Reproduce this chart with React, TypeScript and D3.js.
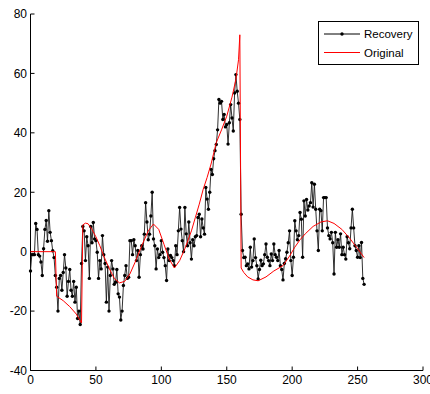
import React from 'react';
import * as d3 from 'd3';

// recovered samples, x = 0..255
const recovery = [
  -6.5, -1, -1, -1, 9.5, 7.5, -1, -1.5, -3.5, -8,
  1, 7.5, 10.5, 3.5, 13.8, 6.5, 3.7, 0.3, -2, -8,
  -12, -20, -9, -8, -13, -7, -1, -5.5, -15, -10,
  -6, -13, -15, -10, -17, -12, -22.5, -20, -24.5, -4,
  8.5, 7, -3, 5, 2, -9, 8.5, 3, 9.8, 4.3,
  3.7, -0.2, -9, -3, -5.8, 5.4, -1, -4, -17, -5.2,
  -20, -8, -3, -5.8, -11, -10.3, -6, -14.2, -15.3, -23,
  -20, -11.4, -8, -4.7, -9, -8.6, 3.7, 3.7, -1, 4,
  2, -3, 0.4, -8.6, -1, 2, 0.9, 5.9, 16.5, 10,
  4, 5.9, 12, 20, 4.3, 2, -5.8, 0.9, -2, -1,
  3.7, -0.2, -2, -4.7, -9.7, 0.9, -3, -1.3, -2, -3,
  -4.7, 2, -1, 7, 14.9, 7.6, 3.7, 0, 14.9, 6,
  2, 10, 3, -2.5, 4, 2, 5, 5.4, 11.5, 12.6,
  5, 11, 8, 5.9, 21.6, 17.7, 14.3, 20, 27.7, 26,
  31.3, 34, 36.1, 41, 51.2, 50, 50.6, 44.5, 46.2, 42,
  42.8, 36.2, 43.4, 49.5, 45, 40.6, 53.4, 59.6, 54, 50,
  44.5, 12.6, 0.4, -2, -1.9, -4.7, -4.1, -5.8, 1.5, -5.2,
  -3, 4.3, -2, -4.7, -9.2, -6, -2.9, -4.7, -4.1, -1,
  2.6, -1.9, -3, -4.7, -0.8, -3, 2.6, -1, -1.9, -3,
  0.4, -4.7, -6, -9.5, -4, -2.4, -0.2, 3, 7, -3,
  -8, -1.9, 10.4, 7, 4, 5.4, 13.2, 10.9, -1.9, 17.1,
  12, 17.6, 14, 15.4, 16.5, 23.2, 15, 22.7, 14.3, 7,
  0.4, 14.3, 13.8, 7, 18.2, 18.2, 18.2, 8, 5.4, 4.3,
  6.5, 3, -7.5, 6.5, 1.5, 4, 1.5, 6, -1, 1.5,
  -1, -2.5, 5, 3, 1, 8, 14.3, 8, 2, 0.4,
  -1.9, 2, -2, 3.1, -9, -11,
];

// original signal, read at these positions
const originalX = [
  0, 19, 20, 25, 30, 35, 39, 40, 42, 44, 47, 50, 53, 56, 60, 64, 68, 72, 76, 80, 85,
  90, 94, 98, 102, 106, 110, 114, 118, 123, 126, 129, 132, 135, 138, 142, 146, 150,
  154, 157, 159, 160, 161, 163, 166, 170, 174, 180, 186, 193, 198, 202, 206, 210,
  216, 222, 227, 232, 238, 244, 250, 255,
];
const originalY = [
  0, 0, -15, -16.5, -18.5, -21, -24, 9, 9.6, 9.4, 7.5, 5, 2, -1.5, -5.5, -9, -10.5, -10, -7.5, -3.5, 2,
  7, 9.3, 7.5, 2.5, -2.5, -5.5, -3, 1, 7, 11.5, 16, 21, 25, 29.5, 36.7, 41, 45.6,
  52, 58, 64.6, 73, -5.5, -7, -8.5, -9.5, -9.8, -8.5, -6.5, -4.7, -1.5, 1.5, 4, 6,
  8.5, 10, 10.4, 9.5, 7.5, 4.5, 1, -2,
];

const xTicks = [0, 50, 100, 150, 200, 250, 300];
const yTicks = [-40, -20, 0, 20, 40, 60, 80];
const legendItems = ['Recovery', 'Original'];

const FONT = '"Liberation Sans", Arial, Helvetica, sans-serif';

export default function App() {
  const x = d3.scaleLinear().domain([0, 300]).range([30.5, 423]);
  const y = d3.scaleLinear().domain([-40, 80]).range([370.5, 14]);

  const line = d3.line<[number, number]>()
    .x(d => x(d[0]))
    .y(d => y(d[1]));

  const recPts: [number, number][] = recovery.map((v, i) => [i, v]);
  const origPts: [number, number][] = originalX.map((v, i) => [v, originalY[i]]);

  const [x0, x1] = x.range();
  const [yb, yt] = y.range();

  return (
    <svg width={430} height={394} style={{ position: 'absolute', left: 0, top: 0, background: '#fff' }}>
      {/* axes */}
      <line x1={x0} x2={x0} y1={yt} y2={yb} stroke="#000" strokeWidth={1} />
      <line x1={x0} x2={x1} y1={yb} y2={yb} stroke="#000" strokeWidth={1} />
      {yTicks.map(t => (
        <g key={'y' + t}>
          <line x1={x0} x2={x0 + 4} y1={y(t)} y2={y(t)} stroke="#000" />
          <text x={27} y={y(t)} dy="0.36em" textAnchor="end" fontFamily={FONT} fontSize={12}>{t}</text>
        </g>
      ))}
      {xTicks.map(t => (
        <g key={'x' + t}>
          <line x1={x(t)} x2={x(t)} y1={yb} y2={yb - 4} stroke="#000" />
          <text x={x(t)} y={384} textAnchor="middle" fontFamily={FONT} fontSize={12}>{t}</text>
        </g>
      ))}

      {/* recovery */}
      <path d={line(recPts) || ''} fill="none" stroke="#1a1a1a" strokeWidth={0.9} />
      {recPts.map((d, i) => (
        <circle key={i} cx={x(d[0])} cy={y(d[1])} r={1.7} fill="#000" />
      ))}

      {/* original */}
      <path d={line(origPts) || ''} fill="none" stroke="#ff0000" strokeWidth={1} />

      {/* legend */}
      <rect x={318.5} y={21.5} width={100} height={43} fill="#fff" stroke="#000" strokeWidth={1} />
      <line x1={324} x2={360} y1={34} y2={34} stroke="#000" />
      <circle cx={342} cy={34} r={1.7} fill="#000" />
      <text x={364} y={38} fontFamily={FONT} fontSize={11.5}>{legendItems[0]}</text>
      <line x1={324} x2={360} y1={52.5} y2={52.5} stroke="#ff0000" />
      <text x={364} y={56.5} fontFamily={FONT} fontSize={11.5}>{legendItems[1]}</text>
    </svg>
  );
}
